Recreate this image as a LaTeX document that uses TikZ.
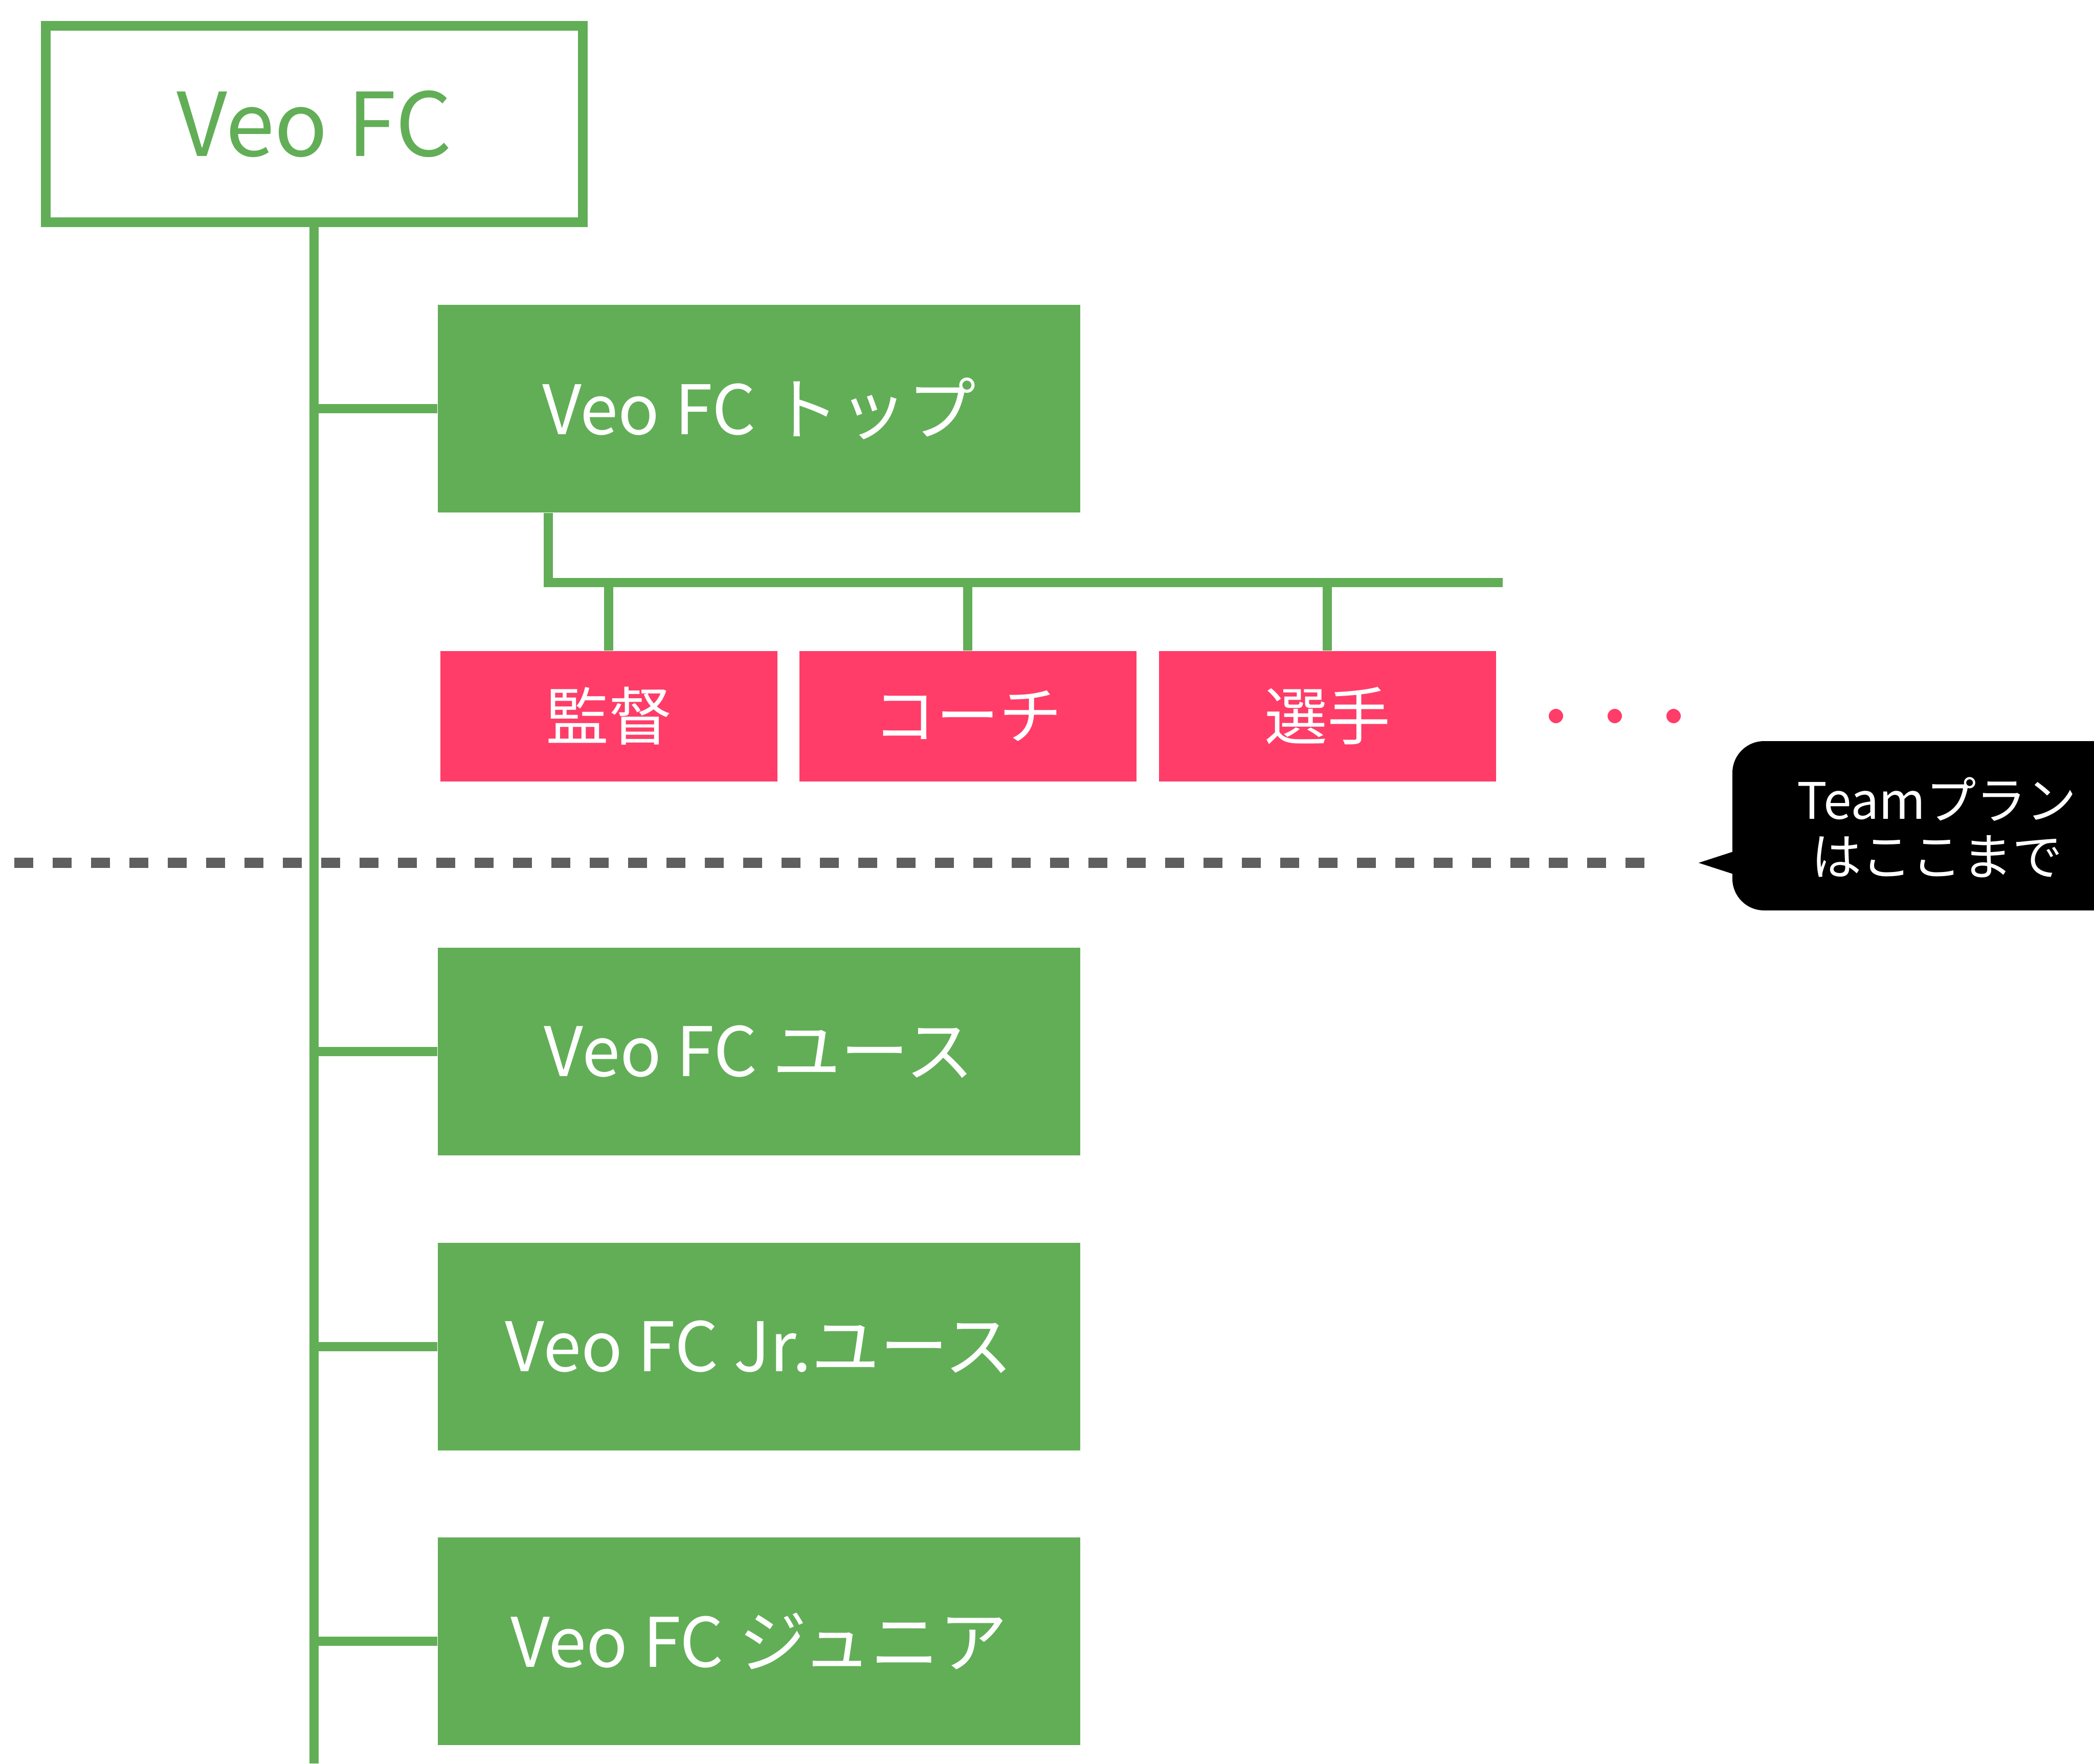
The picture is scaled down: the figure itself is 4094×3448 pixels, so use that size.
\documentclass[tikz,border=0pt]{standalone}
\usepackage{fontspec}
\setmainfont{Noto Sans CJK JP}
\definecolor{teamgreen}{RGB}{98,174,87}
\definecolor{teampink}{RGB}{255,61,104}
\definecolor{teamgray}{RGB}{95,95,95}
\begin{document}
\begin{tikzpicture}[x=0.1mm,y=-0.1mm,
  line/.style={teamgreen,line width=1.8mm},
  club/.style={draw=teamgreen,line width=1.9mm,fill=white,text=teamgreen,
    minimum width=105mm,minimum height=38.4mm,inner sep=0pt,
    font=\fontsize{49}{58}\selectfont},
  team/.style={fill=teamgreen,text=white,minimum width=125.6mm,
    minimum height=40.6mm,inner sep=0pt,font=\fontsize{38}{46}\selectfont},
  role/.style={fill=teampink,text=white,minimum width=65.9mm,
    minimum height=25.5mm,inner sep=0pt,font=\fontsize{35}{42}\selectfont}]
 \useasboundingbox (0,0) rectangle (4094,3448);
 \node[club] (veo) at (614,242) {Veo FC};
 \node[team] (top) at (1484,799) {Veo FC トップ};
 \node[team] (youth) at (1484,2056) {Veo FC ユース};
 \node[team] (jryouth) at (1484,2633) {Veo FC Jr.ユース};
 \node[team] (junior) at (1484,3209) {Veo FC ジュニア};
 \node[role] (manager) at (1190,1400) {監督};
 \node[role] (coach) at (1892,1400) {コーチ};
 \node[role] (player) at (2595,1400) {選手};
 \coordinate (trunkend) at (614,3448);
 \coordinate (bar) at (1072,1139);
 \coordinate (barend) at (2938,1139);
 \draw[line] (veo.south) -- (trunkend);
 \foreach \t in {top,youth,jryouth,junior}
   \draw[line] (\t.west -| veo.south) -- (\t.west);
 \draw[line] (top.south -| bar) -- (bar) -- (barend);
 \foreach \r in {manager,coach,player}
   \draw[line] (\r.north |- bar) -- (\r.north);
 \foreach \x in {3042,3157,3272}
   \fill[teampink] (\x,1400) circle (1.4mm);
 \draw[teamgray,line width=2mm,dash pattern=on 3.7mm off 3.8mm] (28,1687) -- (3215,1687);
 \begin{scope}
  \clip (0,0) rectangle (4094,3448);
  \fill[rounded corners=6.2mm] (3387,1449) rectangle (4183,1780);
  \fill (3392,1664) -- (3321,1687) -- (3392,1710) -- cycle;
  \node[text=white,align=center,font=\fontsize{28}{31.3}\selectfont] (note) at (3787,1618) {Teamプラン\\はここまで};
 \end{scope}
\end{tikzpicture}
\end{document}
